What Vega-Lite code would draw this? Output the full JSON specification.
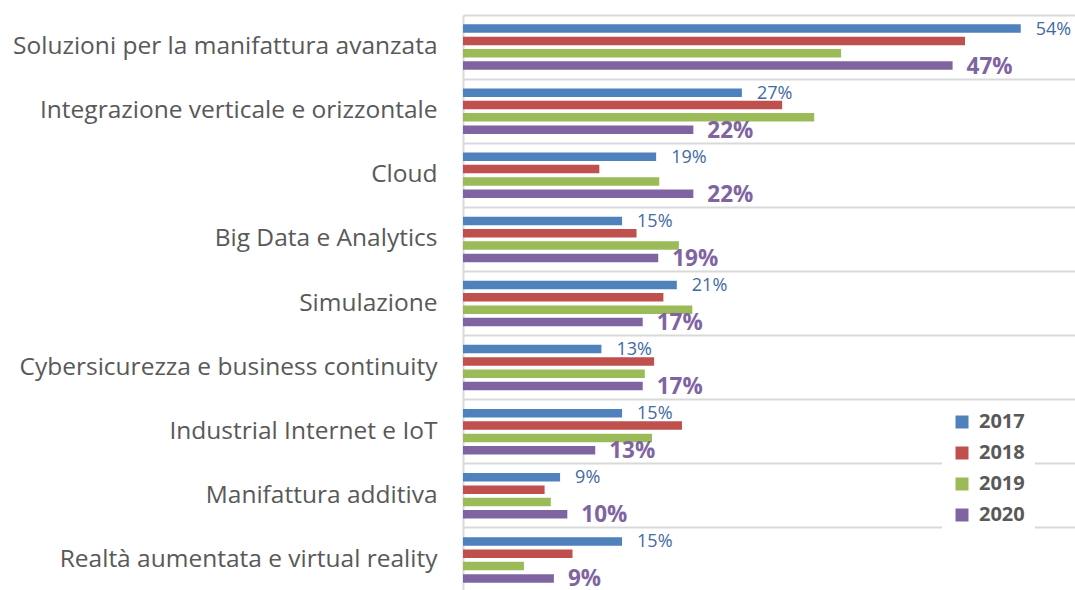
{
  "$schema": "https://vega.github.io/schema/vega-lite/v6.json",
  "width": 612,
  "height": 577,
  "autosize": {"type": "none"},
  "padding": {"left": 463, "top": 15, "right": 0, "bottom": 0},
  "background": "white",
  "config": {"view": {"stroke": null}, "font": "Open Sans"},
  "data": {
    "values": [
      {"cat": "Soluzioni per la manifattura avanzata", "year": "2017", "v": 0.54},
      {"cat": "Soluzioni per la manifattura avanzata", "year": "2018", "v": 0.486},
      {"cat": "Soluzioni per la manifattura avanzata", "year": "2019", "v": 0.366},
      {"cat": "Soluzioni per la manifattura avanzata", "year": "2020", "v": 0.474},
      {"cat": "Integrazione verticale e orizzontale", "year": "2017", "v": 0.27},
      {"cat": "Integrazione verticale e orizzontale", "year": "2018", "v": 0.309},
      {"cat": "Integrazione verticale e orizzontale", "year": "2019", "v": 0.34},
      {"cat": "Integrazione verticale e orizzontale", "year": "2020", "v": 0.223},
      {"cat": "Cloud", "year": "2017", "v": 0.187},
      {"cat": "Cloud", "year": "2018", "v": 0.132},
      {"cat": "Cloud", "year": "2019", "v": 0.19},
      {"cat": "Cloud", "year": "2020", "v": 0.223},
      {"cat": "Big Data e Analytics", "year": "2017", "v": 0.154},
      {"cat": "Big Data e Analytics", "year": "2018", "v": 0.168},
      {"cat": "Big Data e Analytics", "year": "2019", "v": 0.209},
      {"cat": "Big Data e Analytics", "year": "2020", "v": 0.189},
      {"cat": "Simulazione", "year": "2017", "v": 0.207},
      {"cat": "Simulazione", "year": "2018", "v": 0.194},
      {"cat": "Simulazione", "year": "2019", "v": 0.222},
      {"cat": "Simulazione", "year": "2020", "v": 0.174},
      {"cat": "Cybersicurezza e business continuity", "year": "2017", "v": 0.134},
      {"cat": "Cybersicurezza e business continuity", "year": "2018", "v": 0.185},
      {"cat": "Cybersicurezza e business continuity", "year": "2019", "v": 0.176},
      {"cat": "Cybersicurezza e business continuity", "year": "2020", "v": 0.174},
      {"cat": "Industrial Internet e IoT", "year": "2017", "v": 0.154},
      {"cat": "Industrial Internet e IoT", "year": "2018", "v": 0.212},
      {"cat": "Industrial Internet e IoT", "year": "2019", "v": 0.183},
      {"cat": "Industrial Internet e IoT", "year": "2020", "v": 0.128},
      {"cat": "Manifattura additiva", "year": "2017", "v": 0.094},
      {"cat": "Manifattura additiva", "year": "2018", "v": 0.079},
      {"cat": "Manifattura additiva", "year": "2019", "v": 0.085},
      {"cat": "Manifattura additiva", "year": "2020", "v": 0.101},
      {"cat": "Realtà aumentata e virtual reality", "year": "2017", "v": 0.154},
      {"cat": "Realtà aumentata e virtual reality", "year": "2018", "v": 0.106},
      {"cat": "Realtà aumentata e virtual reality", "year": "2019", "v": 0.059},
      {"cat": "Realtà aumentata e virtual reality", "year": "2020", "v": 0.088}
    ]
  },
  "encoding": {
    "y": {
      "field": "cat", "type": "nominal", "sort": null,
      "scale": {"paddingInner": 0, "paddingOuter": 0},
      "axis": {
        "title": null, "ticks": false, "tickSize": 0, "labelPadding": 26,
        "labelFontSize": 24.5, "labelColor": "#595959", "labelFont": "Open Sans",
        "domainColor": "#d9d9d9", "domainWidth": 2,
        "grid": true, "gridColor": "#d9d9d9", "gridWidth": 2, "bandPosition": 0,
        "labelLimit": 500
      }
    },
    "x": {
      "field": "v", "type": "quantitative",
      "scale": {"domain": [0, 0.5925], "nice": false},
      "axis": null
    },
    "yOffset": {
      "field": "year", "type": "nominal",
      "scale": {"paddingInner": 0.31, "paddingOuter": 0.755}
    }
  },
  "layer": [
    {
      "mark": {"type": "bar"},
      "encoding": {
        "color": {
          "field": "year", "type": "nominal",
          "scale": {"domain": ["2017", "2018", "2019", "2020"], "range": ["#4F81BD", "#C0504D", "#9BBB59", "#8064A2"]},
          "legend": {
            "title": null, "orient": "none", "legendX": 479, "legendY": 387,
            "fillColor": "white", "padding": 10, "symbolType": "square", "symbolSize": 169,
            "symbolStrokeWidth": 0, "labelFontSize": 20, "labelFontWeight": "bold",
            "labelColor": "#595959", "labelFont": "Open Sans", "rowPadding": 11, "labelOffset": 7,
            "symbolOpacity": 1
          }
        }
      }
    },
    {
      "transform": [{"filter": "datum.year == '2017'"}],
      "mark": {"type": "text", "align": "left", "baseline": "middle", "dx": 15, "dy": 1, "fontSize": 18, "color": "#3F6AA3", "font": "Open Sans"},
      "encoding": {"text": {"field": "v", "type": "quantitative", "format": ".0%"}}
    },
    {
      "transform": [{"filter": "datum.year == '2020'"}],
      "mark": {"type": "text", "align": "left", "baseline": "middle", "dx": 14, "dy": 1, "fontSize": 22.5, "fontWeight": "bold", "color": "#8064A2", "font": "Open Sans"},
      "encoding": {"text": {"field": "v", "type": "quantitative", "format": ".0%"}}
    }
  ]
}
